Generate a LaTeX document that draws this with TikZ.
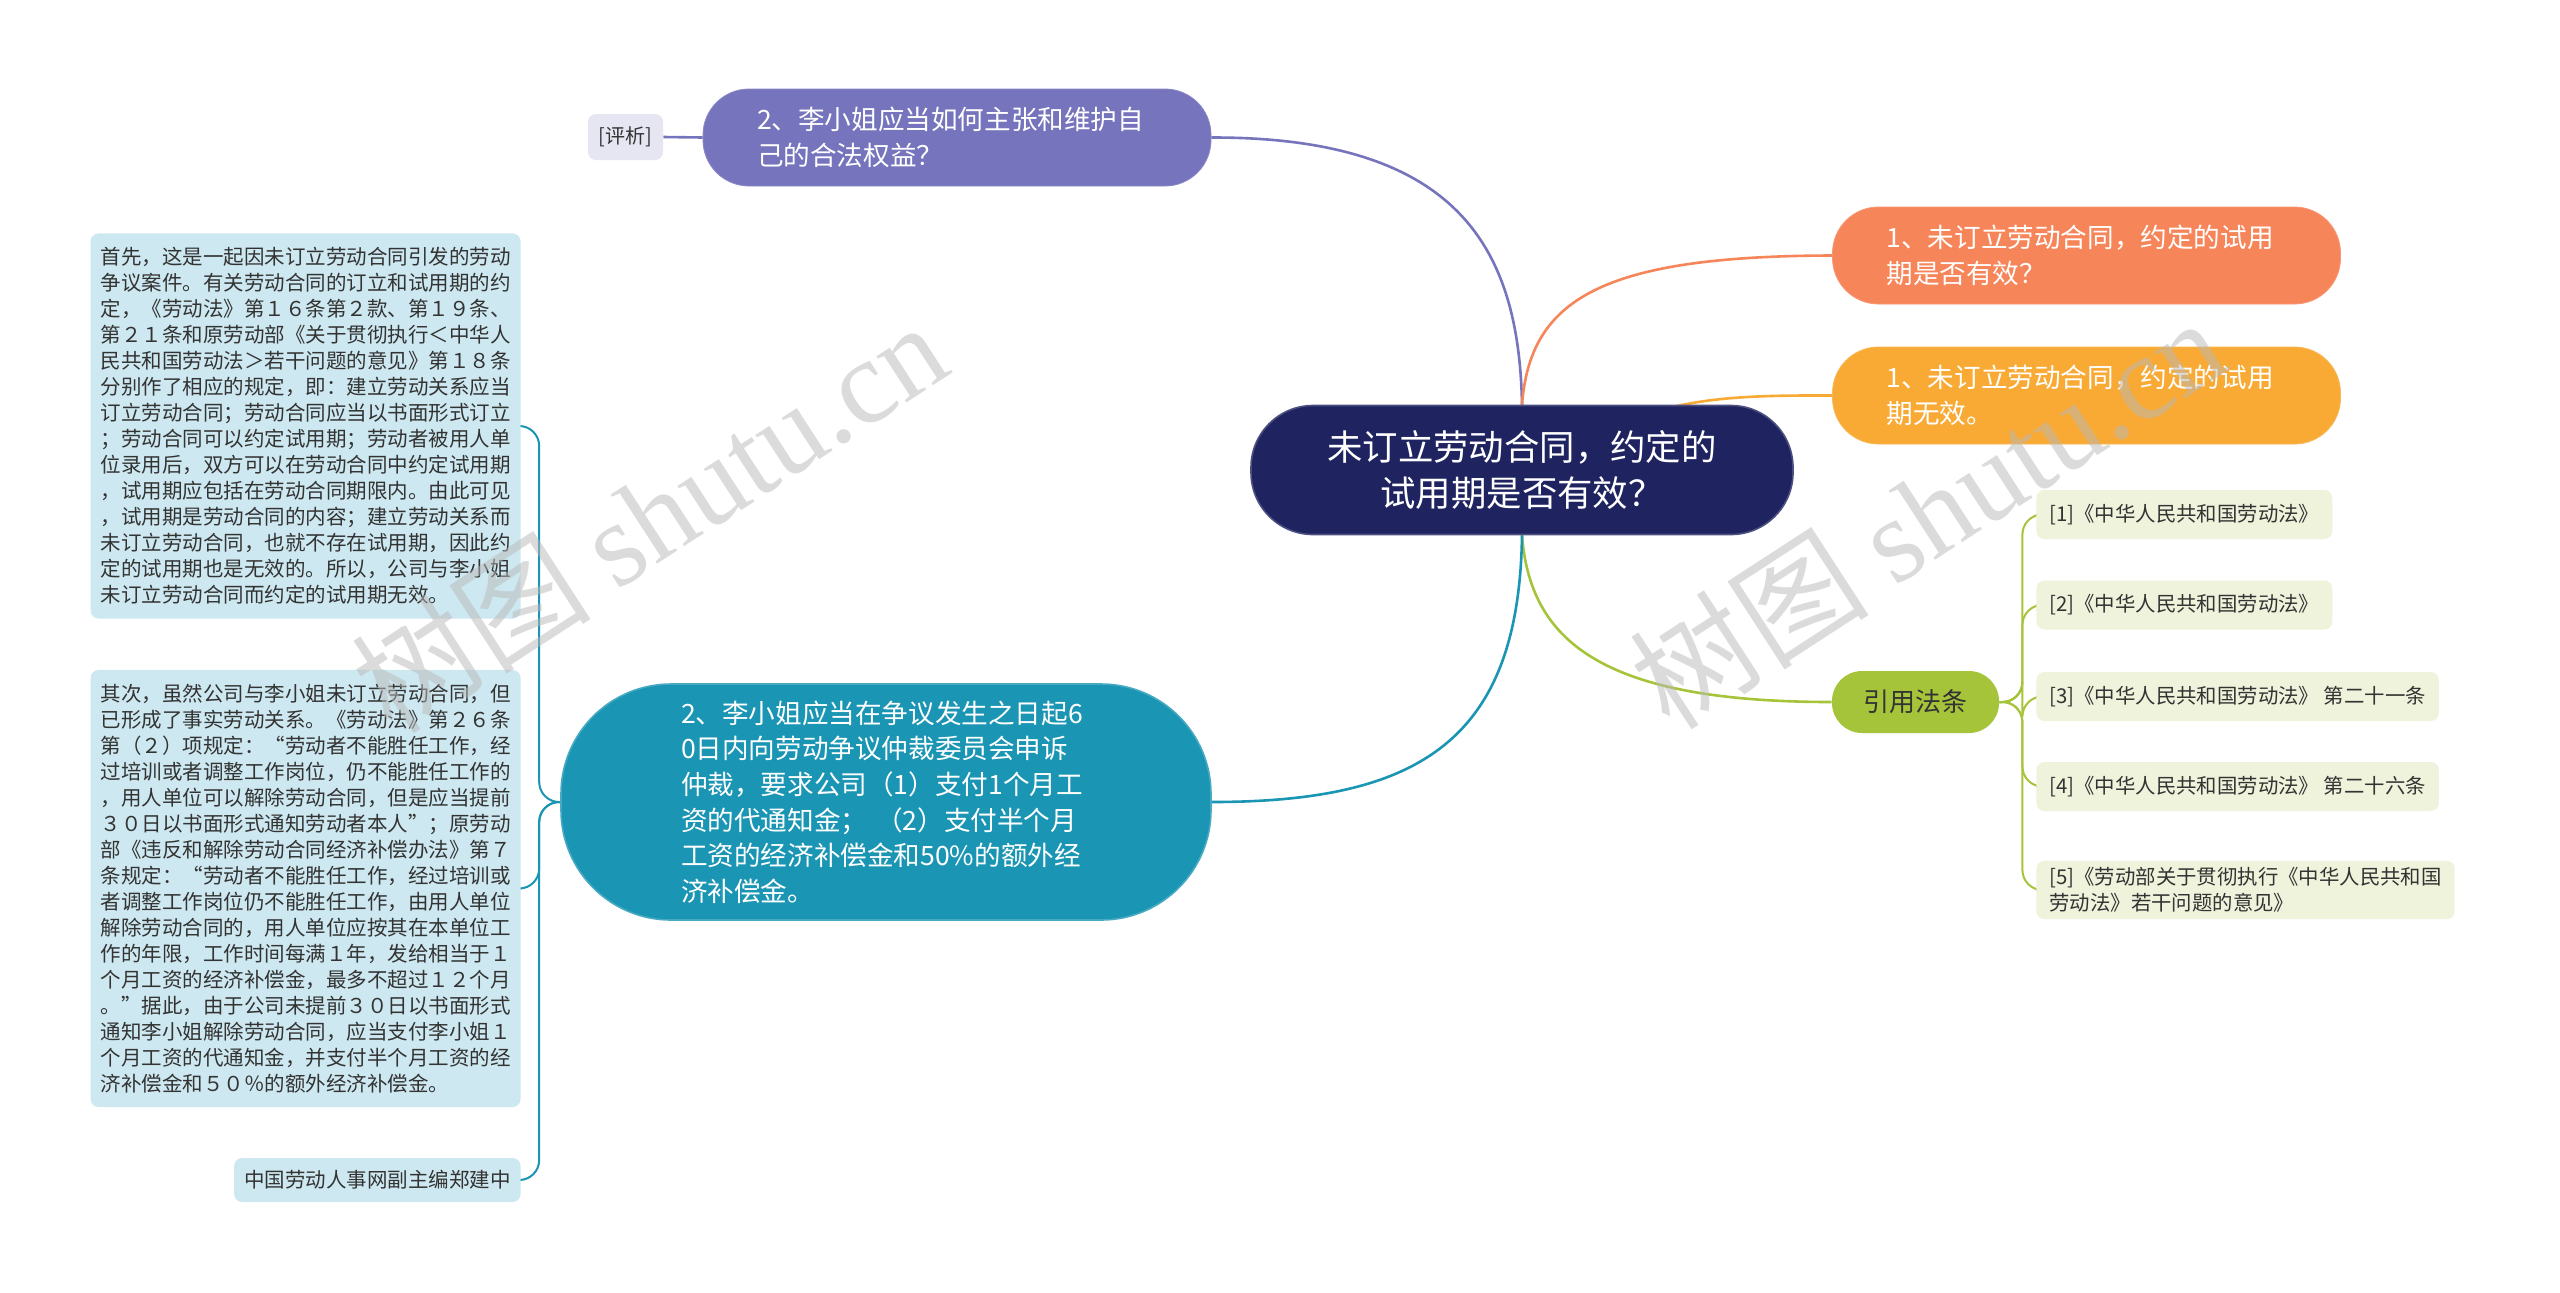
\documentclass[tikz,border=0pt]{standalone}
\usepackage{fontspec}
\setmainfont{Noto Sans CJK SC}
\newfontfamily\wmfont{Liberation Serif}
\usepackage{tikz}
\usetikzlibrary{positioning}
\pgfdeclarelayer{bglayer}
\pgfdeclarelayer{edgelayer}
\pgfsetlayers{bglayer,edgelayer,main}

\definecolor{rootblue}{HTML}{1F2461}
\definecolor{qorange}{HTML}{F7855A}
\definecolor{aorange}{HTML}{F8AA35}
\definecolor{qpurple}{HTML}{7674BC}
\definecolor{ateal}{HTML}{1A95B3}
\definecolor{lawgreen}{HTML}{A6C43A}
\definecolor{reffill}{HTML}{EFF3DB}
\definecolor{notefill}{HTML}{CDE8F0}
\definecolor{pxfill}{HTML}{E6E6F3}
\definecolor{textdark}{HTML}{333333}

\tikzset{
  rootnode/.style={fill=rootblue, draw=rootblue!80!white, line width=0.8pt, rounded corners=31pt,
    text=white, font=\fontsize{17.7}{23}\selectfont, align=center,
    minimum width=271pt, minimum height=64.5pt},
  branch/.style={rounded corners=23pt, text=white, font=\fontsize{13.3}{18}\selectfont,
    align=left, text width=200pt, inner xsep=27pt, minimum height=48.5pt},
  bigbranch/.style={fill=ateal, draw=ateal!80!white, line width=0.8pt, rounded corners=55pt, text=white,
    font=\fontsize{13.3}{17.8}\selectfont, align=left, text width=205pt, inner xsep=60pt,
    minimum height=118pt},
  lawnode/.style={fill=lawgreen, rounded corners=15pt, text=textdark,
    font=\fontsize{13}{16}\selectfont, minimum width=83.5pt, minimum height=31pt},
  lawref/.style={fill=reffill, rounded corners=4pt, text=textdark, anchor=west,
    font=\fontsize{10.2}{13}\selectfont, align=left, inner xsep=6.5pt, minimum height=24.5pt},
  note/.style={fill=notefill, rounded corners=4pt, text=textdark, anchor=east,
    font=\fontsize{10.25}{13}\selectfont, align=left, inner xsep=5pt, inner ysep=7pt},
  pxnode/.style={fill=pxfill, rounded corners=4pt, text=textdark,
    font=\fontsize{10}{12}\selectfont, minimum width=37.5pt, minimum height=23pt},
  link/.style={line width=1.3pt},
  spine/.style={line width=1pt, rounded corners=10pt},
  wm/.style={text=gray!55, text opacity=0.5, rotate=33, font=\fontsize{60}{60}\selectfont}
}

\begin{document}
\begin{tikzpicture}[x=0.5pt,y=-0.5pt]
\useasboundingbox (0,0) rectangle (2560,1292);
\begin{pgfonlayer}{bglayer}
\fill[white] (0,0) rectangle (2560,1292);
\end{pgfonlayer}

\node[rootnode] (root) at (1522,470) {未订立劳动合同，约定的\\试用期是否有效？};

\node[branch, fill=qorange, draw=qorange!85!white] (q1) at (2086.5,255.5) {1、未订立劳动合同，约定的试用\\期是否有效？};
\node[branch, fill=aorange, draw=aorange!85!white] (a1) at (2086.5,395.5) {1、未订立劳动合同，约定的试用\\期无效。};
\node[branch, fill=qpurple, draw=qpurple!85!white] (q2) at (957,137.5) {2、李小姐应当如何主张和维护自\\己的合法权益？};
\node[pxnode] (px) at (625.5,137) {[评析]};

\node[bigbranch] (a2) at (886,802) {2、李小姐应当在争议发生之日起6\\0日内向劳动争议仲裁委员会申诉\\仲裁，要求公司（1）支付1个月工\\资的代通知金； （2）支付半个月\\工资的经济补偿金和50\%的额外经\\济补偿金。};

\node[note, text width=205pt] (n1) at (521,426) {首先，这是一起因未订立劳动合同引发的劳动\\争议案件。有关劳动合同的订立和试用期的约\\定，《劳动法》第１６条第２款、第１９条、\\第２１条和原劳动部《关于贯彻执行＜中华人\\民共和国劳动法＞若干问题的意见》第１８条\\分别作了相应的规定，即：建立劳动关系应当\\订立劳动合同；劳动合同应当以书面形式订立\\；劳动合同可以约定试用期；劳动者被用人单\\位录用后，双方可以在劳动合同中约定试用期\\，试用期应包括在劳动合同期限内。由此可见\\，试用期是劳动合同的内容；建立劳动关系而\\未订立劳动合同，也就不存在试用期，因此约\\定的试用期也是无效的。所以，公司与李小姐\\未订立劳动合同而约定的试用期无效。};
\node[note, text width=205pt] (n2) at (521,888.5) {其次，虽然公司与李小姐未订立劳动合同，但\\已形成了事实劳动关系。《劳动法》第２６条\\第（２）项规定：“劳动者不能胜任工作，经\\过培训或者调整工作岗位，仍不能胜任工作的\\，用人单位可以解除劳动合同，但是应当提前\\３０日以书面形式通知劳动者本人”；原劳动\\部《违反和解除劳动合同经济补偿办法》第７\\条规定：“劳动者不能胜任工作，经过培训或\\者调整工作岗位仍不能胜任工作，由用人单位\\解除劳动合同的，用人单位应按其在本单位工\\作的年限，工作时间每满１年，发给相当于１\\个月工资的经济补偿金，最多不超过１２个月\\。”据此，由于公司未提前３０日以书面形式\\通知李小姐解除劳动合同，应当支付李小姐１\\个月工资的代通知金，并支付半个月工资的经\\济补偿金和５０％的额外经济补偿金。};
\node[note, inner ysep=5pt, minimum height=22pt] (n3) at (521,1180) {中国劳动人事网副主编郑建中};

\node[lawnode] (law) at (1915.5,702) {引用法条};
\node[lawref] (r1) at (2036,514.5) {[1]《中华人民共和国劳动法》};
\node[lawref] (r2) at (2036,605) {[2]《中华人民共和国劳动法》};
\node[lawref] (r3) at (2036,696.5) {[3]《中华人民共和国劳动法》 第二十一条};
\node[lawref] (r4) at (2036,786.5) {[4]《中华人民共和国劳动法》 第二十六条};
\node[lawref] (r5) at (2036,890) {[5]《劳动部关于贯彻执行《中华人民共和国\\劳动法》若干问题的意见》};

\begin{pgfonlayer}{edgelayer}
\draw[link, qpurple] (root.north) .. controls (1519,250) and (1460,137) .. (q2.east);
\draw[link, qorange] (root.north) .. controls (1530,300) and (1600,256) .. (q1.west);
\draw[link, aorange] (root.center) .. controls (1650,400) and (1700,395) .. (a1.west);
\draw[link, lawgreen] (root.south) .. controls (1530,640) and (1600,702) .. (law.west);
\draw[link, ateal] (root.south) .. controls (1519,740) and (1420,802) .. (a2.east);
\draw[link, qpurple] (q2.west) -- (px.east);

\foreach \n in {n1,n2,n3}
  \draw[spine, ateal] (a2.west) -- ++(-21,0) |- (\n.east);
\foreach \r in {r1,r2,r3,r4,r5}
  \draw[spine, lawgreen] (law.east) -- ++(23,0) |- (\r.west);
\end{pgfonlayer}

\node[wm] (wm1) at (649,516) {树图 {\wmfont shutu.cn}};
\node[wm] (wm2) at (1927,512) {树图 {\wmfont shutu.cn}};
\end{tikzpicture}
\end{document}
